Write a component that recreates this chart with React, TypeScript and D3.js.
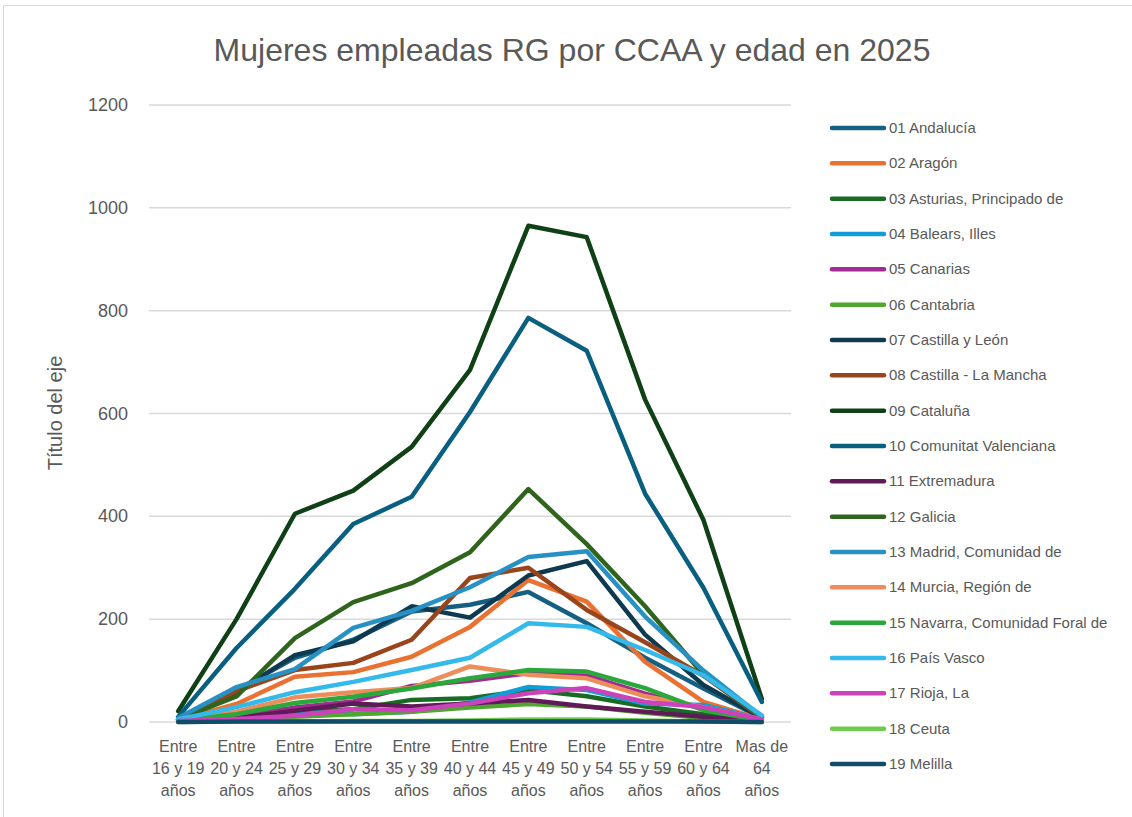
import React from "react";
import * as d3 from "d3";

const categories = [
  ["Entre", "16 y 19", "años"],
  ["Entre", "20 y 24", "años"],
  ["Entre", "25 y 29", "años"],
  ["Entre", "30 y 34", "años"],
  ["Entre", "35 y 39", "años"],
  ["Entre", "40 y 44", "años"],
  ["Entre", "45 y 49", "años"],
  ["Entre", "50 y 54", "años"],
  ["Entre", "55 y 59", "años"],
  ["Entre", "60 y 64", "años"],
  ["Mas de", "64", "años"],
];
const categoryKeys = categories.map((c) => c.join(" "));

const seriesNames = [
  "01 Andalucía",
  "02 Aragón",
  "03 Asturias, Principado de",
  "04 Balears, Illes",
  "05 Canarias",
  "06 Cantabria",
  "07 Castilla y León",
  "08 Castilla - La Mancha",
  "09 Cataluña",
  "10 Comunitat Valenciana",
  "11 Extremadura",
  "12 Galicia",
  "13 Madrid, Comunidad de",
  "14 Murcia, Región de",
  "15 Navarra, Comunidad Foral de",
  "16 País Vasco",
  "17 Rioja, La",
  "18 Ceuta",
  "19 Melilla",
];

const seriesColors = [
  "#156082", "#E97132", "#196B24", "#0F9ED5", "#A02B93", "#4EA72E",
  "#0D3A4E", "#99441A", "#0F4016", "#095F80", "#601A58", "#2F641C",
  "#2791C4", "#ED8D5B", "#2BA83B", "#33BAEA", "#CB42BA", "#6FCB4E",
  "#104C6A",
];

const andalucia = [5, 62, 125, 160, 215, 228, 253, 192, 125, 65, 8];
const aragon = [4, 35, 88, 97, 127, 185, 276, 234, 117, 39, 5];
const asturias = [2, 10, 20, 25, 43, 46, 62, 50, 30, 15, 2];
const balears = [3, 10, 20, 15, 20, 38, 68, 62, 36, 33, 5];
const canarias = [3, 12, 28, 40, 70, 80, 95, 90, 55, 25, 3];
const cantabria = [1, 5, 10, 15, 20, 28, 35, 30, 18, 8, 1];
const castillaLeon = [4, 58, 130, 157, 225, 203, 285, 313, 170, 72, 8];
const castillaMancha = [5, 60, 101, 115, 160, 280, 300, 218, 155, 90, 8];
const cataluna = [21, 200, 405, 450, 535, 685, 965, 943, 627, 393, 45];
const valenciana = [10, 144, 259, 385, 438, 603, 786, 722, 444, 261, 39];
const extremadura = [2, 8, 22, 36, 30, 36, 43, 30, 20, 10, 2];
const galicia = [5, 50, 163, 233, 270, 330, 453, 346, 225, 92, 10];
const madrid = [8, 68, 103, 183, 216, 262, 321, 332, 205, 100, 10];
const murcia = [3, 20, 48, 58, 66, 108, 92, 85, 50, 29, 5];
const navarra = [3, 15, 37, 49, 65, 85, 101, 98, 66, 23, 3];
const paisVasco = [5, 29, 58, 78, 101, 125, 192, 185, 140, 91, 13];
const rioja = [2, 6, 12, 25, 23, 36, 56, 66, 39, 29, 5];
const ceuta = [0, 1, 1, 2, 2, 3, 5, 5, 3, 1, 0];
const melilla = [0, 1, 1, 1, 1, 1, 1, 1, 1, 1, 0];

const seriesValues = [
  andalucia, aragon, asturias, balears, canarias, cantabria, castillaLeon,
  castillaMancha, cataluna, valenciana, extremadura, galicia, madrid, murcia,
  navarra, paisVasco, rioja, ceuta, melilla,
];

const yTicks = [0, 200, 400, 600, 800, 1000, 1200];

const W = 1132;
const H = 817;
const FONT = "'Liberation Sans', Arial, sans-serif";
const TEXT = "#595959";

export default function App() {
  const x = d3.scalePoint<string>().domain(categoryKeys).range([149, 791]).padding(0.5);
  const y = d3.scaleLinear().domain([0, 1200]).range([722, 105]);
  const line = d3
    .line<number>()
    .x((_, i) => x(categoryKeys[i]) as number)
    .y((d) => y(d));

  const legendY = d3.scaleLinear().domain([0, 18]).range([128, 764]);

  return (
    <svg
      width={W}
      height={H}
      style={{ position: "absolute", left: 0, top: 0, background: "#fff" }}
      fontFamily={FONT}
    >
      <rect x={3.5} y={5.5} width={W + 10} height={H + 10} fill="#fff" stroke="#d9d9d9" strokeWidth={1} />
      <text x={572} y={61} textAnchor="middle" fontSize={32} fill={TEXT}>
        Mujeres empleadas RG por CCAA y edad en 2025
      </text>

      {yTicks.map((t) => (
        <g key={t}>
          <line x1={149} x2={791} y1={y(t)} y2={y(t)} stroke="#d9d9d9" strokeWidth={1.5} />
          <text x={128} y={y(t) + 6} textAnchor="end" fontSize={18} fill={TEXT}>
            {t}
          </text>
        </g>
      ))}

      <text
        transform={`translate(62,${413}) rotate(-90)`}
        textAnchor="middle"
        fontSize={20}
        fill={TEXT}
      >
        Título del eje
      </text>

      {categories.map((c, i) => (
        <text key={i} x={x(categoryKeys[i]) as number} textAnchor="middle" fontSize={16} fill={TEXT}>
          {c.map((l, j) => (
            <tspan key={j} x={x(categoryKeys[i]) as number} y={752 + j * 22}>
              {l}
            </tspan>
          ))}
        </text>
      ))}

      {seriesValues.map((vals, i) => (
        <path
          key={i}
          d={line(vals) || ""}
          fill="none"
          stroke={seriesColors[i]}
          strokeWidth={4.5}
          strokeLinejoin="round"
          strokeLinecap="round"
        />
      ))}

      {seriesNames.map((n, i) => (
        <g key={n}>
          <line
            x1={832}
            x2={884}
            y1={legendY(i)}
            y2={legendY(i)}
            stroke={seriesColors[i]}
            strokeWidth={4.5}
            strokeLinecap="round"
          />
          <text x={889} y={legendY(i) + 5} fontSize={15} fill={TEXT}>
            {n}
          </text>
        </g>
      ))}
    </svg>
  );
}
